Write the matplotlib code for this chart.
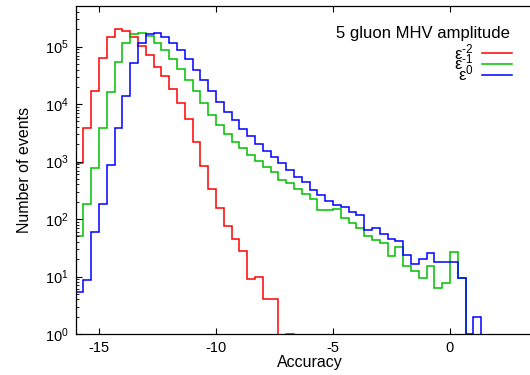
import numpy as np
import matplotlib
matplotlib.use('Agg')
import matplotlib.pyplot as plt

plt.rcParams['font.family'] = ['Liberation Sans', 'DejaVu Sans']
plt.rcParams['mathtext.fontset'] = 'custom'
plt.rcParams['mathtext.rm'] = 'Liberation Sans'
plt.rcParams['mathtext.it'] = 'Liberation Sans:italic'
plt.rcParams['axes.unicode_minus'] = False

# histogramas com bins de largura 1/3, começando em -16
bin_inicio = -16.0
bin_largura = 1.0 / 3.0

# contagens por bin
eps_m2 = [930, 3800, 17000, 63000, 150000, 205000, 190000, 145000, 103000, 71000,
          45000, 30500, 18300, 10600, 5600, 2180, 840, 340, 156, 77,
          45, 28, 9, 10, 4, 4, 0, 1]
eps_m1 = [50, 186, 780, 3890, 16000, 54000, 117000, 168000, 175000, 155000,
          117000, 86000, 61000, 41000, 26500, 17000, 10400, 6400, 4300, 3030,
          2200, 1710, 1310, 1040, 820, 653, 470, 427, 340, 275,
          220, 146, 142, 150, 105, 85, 70, 51, 44, 38,
          23, 33, 15.4, 12.7, 9.4, 15, 6.4, 7.7, 27, 9.6]
eps_0 = [5.3, 8.8, 59, 183, 865, 3780, 14000, 53000, 117000, 165000,
         172000, 150000, 117000, 86000, 61500, 40000, 26000, 17000, 11000, 7300,
         5200, 3630, 2770, 1990, 1550, 1200, 935, 720, 530, 444,
         318, 260, 204, 178, 160, 132, 119, 65, 71, 55,
         45, 41, 24, 16.5, 20, 26, 18, 17.6, 17.6, 9.6,
         1, 2]

series = [eps_m2, eps_m1, eps_0]
legendas = ['$\\mathregular{ε^{\u2010 2}}$', '$\\mathregular{ε^{\u2010 1}}$', '$\\mathregular{ε^{0}}$']
cores = ['#ff0000', '#00c000', '#0000ff']

fig = plt.figure(figsize=(5.3, 3.75), dpi=100)
ax = fig.add_axes([0.1426, 0.1093, 0.883, 0.8747])

for valores, lab, cor in zip(series, legendas, cores):
    bordas = bin_inicio + bin_largura * np.arange(len(valores) + 1)
    ax.stairs(valores, bordas, baseline=0, color=cor, lw=1.1, label=lab)

ax.set_yscale('log')
ax.set_xlim(-16, 4)
ax.set_ylim(1, 5.1e5)
ax.set_xticks([-15, -10, -5, 0])

ax.tick_params(which='both', direction='in', top=True, right=False, labelsize=10.5, pad=5)
ax.tick_params(which='major', length=4)
ax.tick_params(which='minor', length=2.5)
ax.tick_params(axis='x', which='minor', bottom=False, top=False)
for s in ax.spines.values():
    s.set_linewidth(0.9)
ax.spines['right'].set_visible(False)

ax.set_xlabel('Accuracy', fontsize=11.5)
ax.set_ylabel('Number of events', fontsize=11.5)
ax.xaxis.set_label_coords(0.5, -0.065)
ax.yaxis.set_label_coords(-0.094, 0.5)

ax.text(0.928, 0.903, '5 gluon MHV amplitude', transform=ax.transAxes,
        ha='right', va='baseline', fontsize=12)

ax.legend(loc='upper right', bbox_to_anchor=(0.9325, 0.89), frameon=False,
          markerfirst=False, fontsize=12, handlelength=1.8, handletextpad=0.5,
          labelspacing=-0.55, borderpad=0, borderaxespad=0)

fig.savefig('out.png', dpi=100)
